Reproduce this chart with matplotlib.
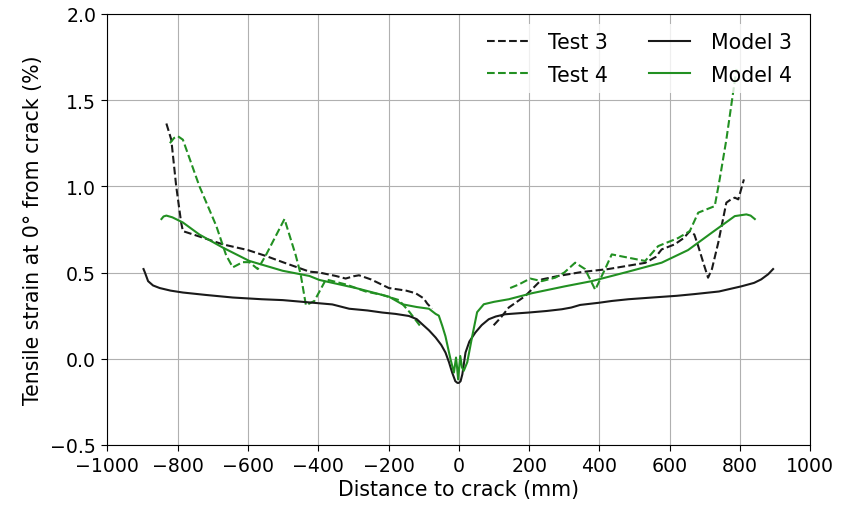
import numpy as np
import matplotlib
matplotlib.use("Agg")
import matplotlib.pyplot as plt

# strain profiles along the specimen, distance in mm, strain in %
test3_left_x = [-832, -818, -804, -790, -785, -740, -671, -600, -549, -501, -425, -397,
                -350, -322, -300, -284, -250, -199, -150, -123, -100, -90, -76]
test3_left_y = [1.364, 1.27, 1.0, 0.79, 0.74, 0.71, 0.663, 0.63, 0.596, 0.56, 0.505, 0.50,
                0.48, 0.465, 0.478, 0.484, 0.46, 0.41, 0.395, 0.38, 0.35, 0.32, 0.29]
test3_right_x = [99, 120, 142, 189, 236, 283, 350, 425, 530, 560, 577, 614, 640, 657,
                 670, 681, 695, 709, 720, 738, 761, 775, 785, 795, 811]
test3_right_y = [0.194, 0.24, 0.297, 0.364, 0.46, 0.48, 0.503, 0.52, 0.556, 0.59, 0.634,
                 0.663, 0.70, 0.74, 0.72, 0.653, 0.56, 0.47, 0.52, 0.673, 0.905, 0.925,
                 0.934, 0.924, 1.04]

test4_left_x = [-822, -810, -799, -785, -738, -690, -662, -643, -615, -596, -572, -549,
                -496, -464, -450, -435, -411, -378, -320, -265, -218, -170, -140, -110]
test4_left_y = [1.25, 1.28, 1.29, 1.27, 1.0, 0.77, 0.6, 0.53, 0.56, 0.56, 0.52, 0.6,
                0.81, 0.6, 0.49, 0.31, 0.335, 0.46, 0.43, 0.39, 0.37, 0.34, 0.27, 0.19]
test4_right_x = [146, 170, 203, 236, 274, 300, 331, 359, 388, 416, 435, 482, 530, 567,
                 624, 657, 681, 728, 742, 761, 780, 790]
test4_right_y = [0.41, 0.43, 0.465, 0.45, 0.47, 0.50, 0.557, 0.52, 0.40, 0.52, 0.605,
                 0.586, 0.567, 0.653, 0.70, 0.74, 0.847, 0.885, 1.04, 1.27, 1.54, 1.68]

model3_x = [-897, -893, -884, -870, -851, -820, -785, -720, -643, -560, -501, -416, -360,
            -312, -260, -218, -180, -142, -120, -104, -85, -66, -50, -38, -28, -19, -10,
            -4, 0, 5, 10, 19, 30, 47, 65, 85, 105, 132, 165, 199, 250, 293, 320, 345,
            400, 435, 482, 550, 620, 671, 740, 804, 840, 860, 880, 894]
model3_y = [0.52, 0.50, 0.45, 0.425, 0.41, 0.395, 0.384, 0.37, 0.355, 0.345, 0.34, 0.325,
            0.315, 0.29, 0.28, 0.268, 0.26, 0.248, 0.23, 0.2, 0.165, 0.123, 0.08, 0.036,
            -0.02, -0.08, -0.13, -0.14, -0.14, -0.13, -0.09, 0.036, 0.10, 0.152, 0.195,
            0.229, 0.245, 0.258, 0.263, 0.268, 0.277, 0.287, 0.297, 0.312, 0.325, 0.335,
            0.345, 0.355, 0.365, 0.375, 0.39, 0.42, 0.44, 0.46, 0.49, 0.52]

model4_x = [-846, -840, -832, -815, -785, -738, -671, -596, -501, -425, -397, -293, -199,
            -161, -120, -85, -66, -57, -47, -38, -24, -14, -8, -5, -2, 4, 9, 14, 24, 38,
            52, 71, 100, 142, 208, 302, 378, 435, 482, 577, 652, 719, 785, 818, 830, 842]
model4_y = [0.81, 0.825, 0.83, 0.82, 0.79, 0.72, 0.644, 0.567, 0.51, 0.48, 0.457, 0.41,
            0.36, 0.316, 0.30, 0.29, 0.26, 0.25, 0.19, 0.13, 0.0, -0.08, 0.007, -0.05,
            -0.12, 0.016, -0.05, -0.07, -0.02, 0.13, 0.27, 0.316, 0.33, 0.345, 0.38,
            0.42, 0.45, 0.48, 0.505, 0.557, 0.63, 0.73, 0.827, 0.837, 0.83, 0.81]

green = '#229022'

def join(xl, yl, xr, yr):
    # left and right gauge segments, broken at the crack
    return xl + [np.nan] + xr, yl + [np.nan] + yr

fig = plt.figure(figsize=(8.45, 5.1), dpi=100)
ax = fig.add_axes([0.127, 0.1255, 0.832, 0.8455])

x, y = join(test3_left_x, test3_left_y, test3_right_x, test3_right_y)
ax.plot(x, y, '--', color='#1a1a1a', lw=1.5, label='Test 3')
x, y = join(test4_left_x, test4_left_y, test4_right_x, test4_right_y)
ax.plot(x, y, '--', color=green, lw=1.5, label='Test 4')
ax.plot(model3_x, model3_y, '-', color='#1a1a1a', lw=1.5, label='Model 3')
ax.plot(model4_x, model4_y, '-', color=green, lw=1.5, label='Model 4')

ax.set_xlim(-1000, 1000)
ax.set_ylim(-0.5, 2.0)
ax.set_xticks(np.arange(-1000, 1001, 200))
ax.set_yticks(np.arange(-0.5, 2.01, 0.5))
ax.grid(True, color='#b0b0b0', lw=0.8)
ax.tick_params(labelsize=13.6, length=4.5)
ax.set_xlabel('Distance to crack (mm)', fontsize=14.8, labelpad=3)
ax.set_ylabel('Tensile strain at 0° from crack (%)', fontsize=14.8, labelpad=5)

leg = ax.legend(loc='upper right', ncol=2, fontsize=14.8, framealpha=0.8,
                edgecolor='none', columnspacing=2.0, handlelength=2.0,
                handletextpad=1.0, labelspacing=0.6, borderaxespad=0.5)

plt.savefig('out.png', dpi=100)
